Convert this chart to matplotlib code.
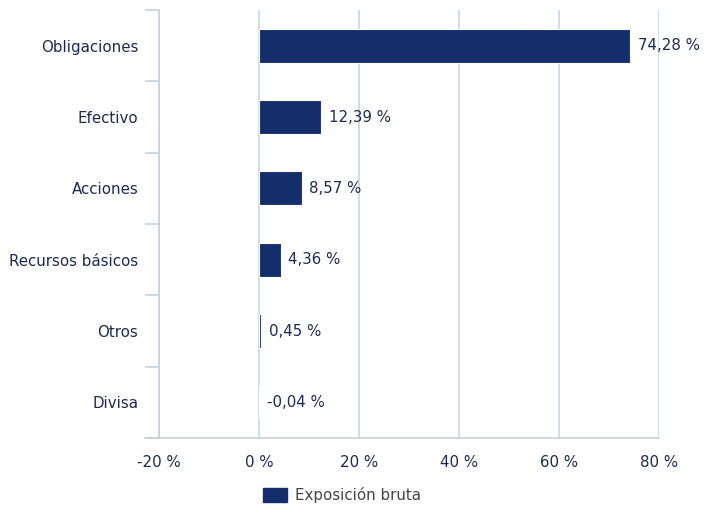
import matplotlib.pyplot as plt
import matplotlib.patches as mpatches
import numpy as np

categories = ["Obligaciones", "Efectivo", "Acciones", "Recursos básicos", "Otros", "Divisa"]
values = [74.28, 12.39, 8.57, 4.36, 0.45, -0.04]
value_labels = ["74,28 %", "12,39 %", "8,57 %", "4,36 %", "0,45 %", "-0,04 %"]
x_ticks = [-20, 0, 20, 40, 60, 80]
x_tick_labels = ["-20 %", "0 %", "20 %", "40 %", "60 %", "80 %"]
legend_label = "Exposición bruta"

bar_color = "#132e6b"
text_color = "#1b2a55"
line_color = "#c5d2e3"
fs = 10.8

fig = plt.figure(figsize=(7.05, 5.14), dpi=100)
ax = fig.add_axes([159 / 705, 1 - 438 / 514, 500 / 705, 428 / 514])

y = np.arange(len(categories))
bars = ax.barh(y, values, height=0.48, color=bar_color, edgecolor="white", linewidth=0.8, zorder=3)

for bar, v, lab in zip(bars, values, value_labels):
    ax.annotate(lab, xy=(max(v, 0), bar.get_y() + bar.get_height() / 2),
                xytext=(5.5, 0), textcoords="offset points",
                ha="left", va="center", fontsize=fs, color=text_color, zorder=4)

ax.set_xlim(-20, 80)
ax.set_ylim(len(categories) - 0.5, -0.5)
ax.set_xticks(x_ticks)
ax.set_xticklabels(x_tick_labels, fontsize=fs, color=text_color)
ax.set_yticks(y)
ax.set_yticklabels(categories, fontsize=fs, color=text_color)
ax.set_yticks(np.arange(-0.5, len(categories), 1), minor=True)
ax.tick_params(axis="y", which="major", length=0, pad=15)
ax.tick_params(axis="y", which="minor", length=10, color=line_color, width=1.2)
ax.tick_params(axis="x", length=0, pad=12)

ax.grid(axis="x", color=line_color, linewidth=1.1, zorder=0)
for s in ["top", "right"]:
    ax.spines[s].set_visible(False)
ax.spines["left"].set_color(line_color)
ax.spines["left"].set_linewidth(1.2)
ax.spines["bottom"].set_color(line_color)
ax.spines["bottom"].set_linewidth(1.2)
ax.spines["bottom"].set_bounds(-22.8, 80)

handle = mpatches.Patch(color=bar_color, label=legend_label)
leg = fig.legend(handles=[handle], loc="center", bbox_to_anchor=(342 / 705, 1 - 495 / 514),
                 frameon=False, fontsize=fs, handlelength=1.6, handleheight=1.1, handletextpad=0.5)
for t in leg.get_texts():
    t.set_color("#444444")

fig.savefig("out.png", dpi=100)
